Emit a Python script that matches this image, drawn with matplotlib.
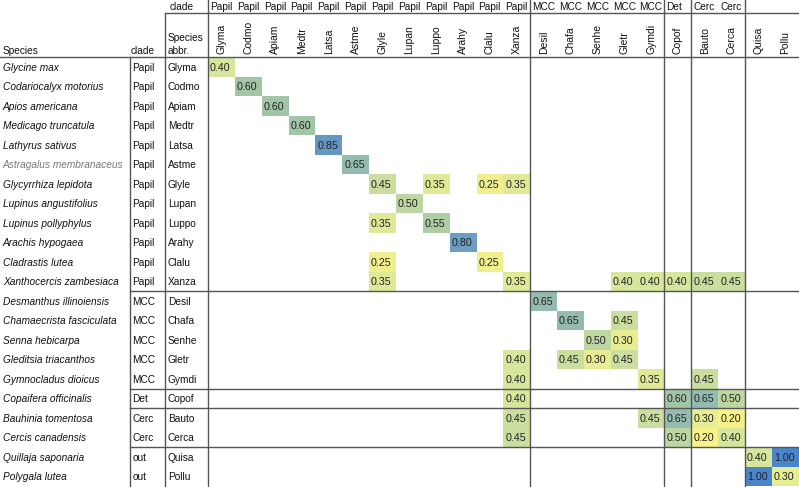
import numpy as np
import matplotlib
matplotlib.use("Agg")
import matplotlib.pyplot as plt
from matplotlib.colors import LinearSegmentedColormap, Normalize

plt.rcParams['font.family'] = ['Liberation Sans', 'DejaVu Sans']

species = ["Glycine max", "Codariocalyx motorius", "Apios americana", "Medicago truncatula",
           "Lathyrus sativus", "Astragalus membranaceus", "Glycyrrhiza lepidota",
           "Lupinus angustifolius", "Lupinus pollyphylus", "Arachis hypogaea",
           "Cladrastis lutea", "Xanthocercis zambesiaca", "Desmanthus illinoiensis",
           "Chamaecrista fasciculata", "Senna hebicarpa", "Gleditsia triacanthos",
           "Gymnocladus dioicus", "Copaifera officinalis", "Bauhinia tomentosa",
           "Cercis canadensis", "Quillaja saponaria", "Polygala lutea"]
clades = ["Papil"] * 12 + ["MCC"] * 5 + ["Det"] + ["Cerc"] * 2 + ["out"] * 2
abbr = ["Glyma", "Codmo", "Apiam", "Medtr", "Latsa", "Astme", "Glyle", "Lupan", "Luppo",
        "Arahy", "Clalu", "Xanza", "Desil", "Chafa", "Senhe", "Gletr", "Gymdi", "Copof",
        "Bauto", "Cerca", "Quisa", "Pollu"]
col_clades = ["Papil"] * 12 + ["MCC"] * 5 + ["Det"] + ["Cerc"] * 2 + ["", ""]

# (row abbr, column abbr, value)
entries = [
    ("Glyma", "Glyma", 0.40), ("Codmo", "Codmo", 0.60), ("Apiam", "Apiam", 0.60),
    ("Medtr", "Medtr", 0.60), ("Latsa", "Latsa", 0.85), ("Astme", "Astme", 0.65),
    ("Glyle", "Glyle", 0.45), ("Glyle", "Luppo", 0.35), ("Glyle", "Clalu", 0.25),
    ("Glyle", "Xanza", 0.35), ("Lupan", "Lupan", 0.50), ("Luppo", "Glyle", 0.35),
    ("Luppo", "Luppo", 0.55), ("Arahy", "Arahy", 0.80), ("Clalu", "Glyle", 0.25),
    ("Clalu", "Clalu", 0.25), ("Xanza", "Glyle", 0.35), ("Xanza", "Xanza", 0.35),
    ("Xanza", "Gletr", 0.40), ("Xanza", "Gymdi", 0.40), ("Xanza", "Copof", 0.40),
    ("Xanza", "Bauto", 0.45), ("Xanza", "Cerca", 0.45), ("Desil", "Desil", 0.65),
    ("Chafa", "Chafa", 0.65), ("Chafa", "Gletr", 0.45), ("Senhe", "Senhe", 0.50),
    ("Senhe", "Gletr", 0.30), ("Gletr", "Xanza", 0.40), ("Gletr", "Chafa", 0.45),
    ("Gletr", "Senhe", 0.30), ("Gletr", "Gletr", 0.45), ("Gymdi", "Xanza", 0.40),
    ("Gymdi", "Gymdi", 0.35), ("Gymdi", "Bauto", 0.45), ("Copof", "Xanza", 0.40),
    ("Copof", "Copof", 0.60), ("Copof", "Bauto", 0.65), ("Copof", "Cerca", 0.50),
    ("Bauto", "Xanza", 0.45), ("Bauto", "Gymdi", 0.45), ("Bauto", "Copof", 0.65),
    ("Bauto", "Bauto", 0.30), ("Bauto", "Cerca", 0.20), ("Cerca", "Xanza", 0.45),
    ("Cerca", "Copof", 0.50), ("Cerca", "Bauto", 0.20), ("Cerca", "Cerca", 0.40),
    ("Quisa", "Quisa", 0.40), ("Quisa", "Pollu", 1.00), ("Pollu", "Quisa", 1.00),
    ("Pollu", "Pollu", 0.30),
]

n = len(abbr)
mat = np.full((n, n), np.nan)
for r, c, v in entries:
    mat[abbr.index(r), abbr.index(c)] = v

# layout (pixel-like coordinates)
W, H = 799, 487
x0, cw = 208, 26.85
y0, rh = 57, 19.5
x_clade, x_abbr = 129.5, 165
y_top = 13

cmap = LinearSegmentedColormap.from_list(
    "cm", [(0.0, "#f7f389"), (0.25, "#d6e69c"), (0.5, "#a2c5a8"),
           (0.75, "#6c9dc2"), (1.0, "#4a85cc")])
norm = Normalize(0.2, 1.0)

fig = plt.figure(figsize=(W / 100, H / 100), dpi=100)
ax = fig.add_axes([0, 0, 1, 1])
ax.set_xlim(0, W)
ax.set_ylim(H, 0)
ax.axis('off')

xe = x0 + cw * np.arange(n + 1)
ye = y0 + rh * np.arange(n + 1)
ax.pcolormesh(xe, ye, np.ma.masked_invalid(mat), cmap=cmap, norm=norm, zorder=1)

fs = 7.3
fs_num = 7.7
for i in range(n):
    for j in range(n):
        v = mat[i, j]
        if not np.isnan(v):
            ax.text(xe[j] + 2, ye[i] + rh * 0.56, f"{v:.2f}", fontsize=fs_num,
                    va='center', ha='left', color='#222222', zorder=3)

# row labels
for i in range(n):
    yc = ye[i] + rh * 0.56
    ax.text(3, yc, species[i], fontsize=fs, style='italic', va='center', ha='left',
            color='#777777' if species[i].startswith("Astragalus") else '#111111')
    ax.text(x_clade + 3, yc, clades[i], fontsize=fs, va='center', ha='left', color='#111111')
    ax.text(x_abbr + 3, yc, abbr[i], fontsize=fs, va='center', ha='left', color='#111111')

# column headers
for j in range(n):
    if col_clades[j]:
        ax.text(xe[j] + 2, 7, col_clades[j], fontsize=fs, va='center', ha='left', color='#111111')
    ax.text(xe[j] + cw / 2, y0 - 3, abbr[j], fontsize=7.5, rotation=90, va='bottom',
            ha='center', color='#111111')

ax.text(3, y0 - 6, "Species", fontsize=fs, va='center', ha='left', color='#111111')
ax.text(x_clade + 1, y0 - 6, "clade", fontsize=fs, va='center', ha='left', color='#111111')
ax.text(x_abbr + 3, y0 - 19, "Species", fontsize=fs, va='center', ha='left', color='#111111')
ax.text(x_abbr + 3, y0 - 6, "abbr.", fontsize=fs, va='center', ha='left', color='#111111')
ax.text(x_abbr + 5, 7, "clade", fontsize=fs, va='center', ha='left', color='#111111')

lc = '#555555'
lw = 1.0
ax.plot([0, W], [y0, y0], color=lc, lw=lw, zorder=4)
ax.plot([x_abbr, W], [y_top, y_top], color=lc, lw=lw, zorder=4)
ax.plot([x_clade, x_clade], [y0, H], color=lc, lw=lw, zorder=4)
ax.plot([x_abbr, x_abbr], [y_top, H], color=lc, lw=lw, zorder=4)
ax.plot([x0, x0], [0, H], color=lc, lw=lw, zorder=4)

groups = [0, 12, 17, 18, 20]
for g in groups[1:]:
    ax.plot([xe[g], xe[g]], [0, H], color=lc, lw=lw, zorder=4)
    ax.plot([x_clade, W], [ye[g], ye[g]], color=lc, lw=lw, zorder=4)

fig.savefig("out.png", dpi=100)
